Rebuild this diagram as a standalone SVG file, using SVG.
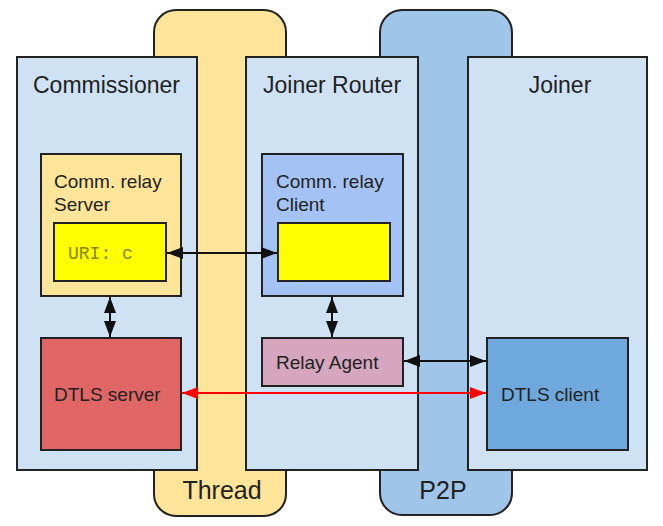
<svg xmlns="http://www.w3.org/2000/svg" width="663" height="526" viewBox="0 0 663 526">
<defs>
<style>
.ol{stroke:#222;stroke-width:2}
.t{font-family:"Liberation Sans",Arial,sans-serif;fill:#222}
.big{font-size:23px}
.mid{font-size:19px}
.con{stroke:#111;stroke-width:2;fill:none}
.red{stroke:#ff0000;stroke-width:2;fill:none}
</style>
<marker id="ah" viewBox="0 0 10 10" refX="10" refY="5" markerWidth="8" markerHeight="6" markerUnits="strokeWidth" orient="auto-start-reverse" preserveAspectRatio="none"><path d="M0,0 L10,5 L0,10 z" fill="#111"/></marker>
<marker id="ahr" viewBox="0 0 10 10" refX="10" refY="5" markerWidth="8" markerHeight="6" markerUnits="strokeWidth" orient="auto-start-reverse" preserveAspectRatio="none"><path d="M0,0 L10,5 L0,10 z" fill="#ff0000"/></marker>
</defs>
<rect width="663" height="526" fill="#fff"/>
<g id="thread">
<rect x="154" y="10" width="132" height="506" rx="22" fill="#ffe599" class="ol"/>
<text x="222" y="499" class="t" font-size="25" text-anchor="middle">Thread</text>
</g>
<g id="p2p">
<rect x="380" y="10" width="132" height="505" rx="22" fill="#9fc5e8" class="ol"/>
<text x="443" y="499" class="t" font-size="25" text-anchor="middle">P2P</text>
</g>
<g id="commissioner">
<rect x="17" y="57" width="180" height="413" fill="#cfe2f3" class="ol"/>
<text x="33" y="93" class="t big">Commissioner</text>
</g>
<g id="joiner-router">
<rect x="246" y="57" width="172" height="413" fill="#cfe2f3" class="ol"/>
<text x="263" y="93" class="t big">Joiner Router</text>
</g>
<g id="joiner">
<rect x="468" y="57" width="179" height="413" fill="#cfe2f3" class="ol"/>
<text x="560" y="93" class="t big" text-anchor="middle">Joiner</text>
</g>
<g id="comm-relay-server">
<rect x="41" y="154" width="140" height="142" fill="#ffe599" class="ol"/>
<text x="54" y="188" class="t mid">Comm. relay</text>
<text x="54" y="211" class="t mid">Server</text>
</g>
<g id="uri-c">
<rect x="54" y="223" width="112" height="58" fill="#ffff00" class="ol"/>
<text x="68" y="259" font-family="'Liberation Mono','Courier New',monospace" font-size="18" fill="#858500">URI: c</text>
</g>
<g id="comm-relay-client">
<rect x="262" y="154" width="141" height="142" fill="#a4c2f4" class="ol"/>
<text x="276" y="188" class="t mid">Comm. relay</text>
<text x="276" y="211" class="t mid">Client</text>
</g>
<g id="client-resource">
<rect x="278" y="223" width="112" height="58" fill="#ffff00" class="ol"/>
</g>
<g id="dtls-server">
<rect x="41" y="338" width="140" height="112" fill="#e06666" class="ol"/>
<text x="54" y="401" class="t mid">DTLS server</text>
</g>
<g id="relay-agent">
<rect x="262" y="338" width="141" height="48" fill="#d5a6bd" class="ol"/>
<text x="276" y="369" class="t mid">Relay Agent</text>
</g>
<g id="dtls-client">
<rect x="487" y="338" width="141" height="112" fill="#6fa8dc" class="ol"/>
<text x="501" y="401" class="t mid">DTLS client</text>
</g>
<g id="connectors">
<line x1="167" y1="253" x2="277" y2="253" class="con" marker-start="url(#ah)" marker-end="url(#ah)"/>
<line x1="110" y1="297" x2="110" y2="337" class="con" marker-start="url(#ah)" marker-end="url(#ah)"/>
<line x1="332" y1="297" x2="332" y2="337" class="con" marker-start="url(#ah)" marker-end="url(#ah)"/>
<line x1="404" y1="361" x2="486" y2="361" class="con" marker-start="url(#ah)" marker-end="url(#ah)"/>
<line x1="182" y1="393" x2="486" y2="393" class="red" marker-start="url(#ahr)" marker-end="url(#ahr)"/>
</g>
</svg>
